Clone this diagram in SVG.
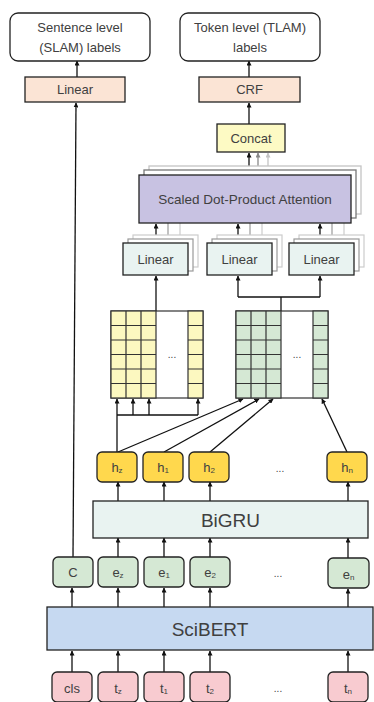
<svg xmlns="http://www.w3.org/2000/svg" width="374" height="702" viewBox="0 0 374 702">
<defs>
<marker id="ah" viewBox="0 0 10 10" refX="9" refY="5" markerWidth="5" markerHeight="5" orient="auto" markerUnits="userSpaceOnUse"><path d="M0,0 L10,5 L0,10 z" fill="#111"/></marker>
<marker id="ahg" viewBox="0 0 10 10" refX="9" refY="5" markerWidth="5" markerHeight="5" orient="auto" markerUnits="userSpaceOnUse"><path d="M0,0 L10,5 L0,10 z" fill="#888"/></marker>
<marker id="ahl" viewBox="0 0 10 10" refX="9" refY="5" markerWidth="5" markerHeight="5" orient="auto" markerUnits="userSpaceOnUse"><path d="M0,0 L10,5 L0,10 z" fill="#c4c4c4"/></marker>
<style>
text{font-family:"Liberation Sans","Noto Sans",sans-serif;fill:#404040;text-anchor:middle;dominant-baseline:central}
.b{stroke:#222;stroke-width:1.3}
.c{stroke:#111;stroke-width:1.3;fill:none}
.a{marker-end:url(#ah)}
.lbl{fill:#fff}
.pe{fill:#fbe4d5}
.te{fill:#e9f3f1}
.gr{fill:#d5e8d4}
.go{fill:#ffd84d}
.pk{fill:#f8cbd0}
.ym{fill:#fcf8c0}
.gm{fill:#d5e8d4}
.m{stroke:#333;stroke-width:1.2}
.dots{font-size:10px}
.sub{font-size:8px}
</style>
</defs>

<g id="connectors">
<line class="c a" x1="72" y1="672" x2="72" y2="651"/>
<line class="c a" x1="118" y1="672" x2="118" y2="651"/>
<line class="c a" x1="164" y1="672" x2="164" y2="651"/>
<line class="c a" x1="210" y1="672" x2="210" y2="651"/>
<line class="c a" x1="348" y1="672" x2="348" y2="651"/>
<line class="c a" x1="72" y1="607" x2="72" y2="588"/>
<line class="c a" x1="118" y1="607" x2="118" y2="588"/>
<line class="c a" x1="164" y1="607" x2="164" y2="588"/>
<line class="c a" x1="210" y1="607" x2="210" y2="588"/>
<line class="c a" x1="348" y1="607" x2="348" y2="589"/>
<line class="c a" x1="118" y1="557" x2="118" y2="538"/>
<line class="c a" x1="164" y1="557" x2="164" y2="538"/>
<line class="c a" x1="210" y1="557" x2="210" y2="538"/>
<line class="c a" x1="348" y1="558" x2="348" y2="538"/>
<line class="c a" x1="118" y1="501" x2="118" y2="482"/>
<line class="c a" x1="164" y1="501" x2="164" y2="482"/>
<line class="c a" x1="210" y1="501" x2="210" y2="482"/>
<line class="c a" x1="348" y1="501" x2="348" y2="482"/>
<line class="c a" x1="73" y1="557" x2="76" y2="103"/>
<line class="c a" x1="77" y1="77" x2="77" y2="61"/>
<line class="c a" x1="249" y1="77" x2="249" y2="61"/>
<line class="c a" x1="249" y1="124" x2="249" y2="103"/>
<line x1="268" y1="166" x2="268" y2="153" stroke="#c4c4c4" stroke-width="1.3" marker-end="url(#ahl)"/>
<line x1="258" y1="170" x2="258" y2="153" stroke="#888" stroke-width="1.3" marker-end="url(#ahg)"/>
<line class="c a" x1="249" y1="175" x2="249" y2="153"/>
<line class="c a" x1="117" y1="452" x2="117" y2="399"/>
<line class="c" x1="117" y1="415" x2="198" y2="415"/>
<line class="c a" x1="133" y1="415" x2="133" y2="399"/>
<line class="c a" x1="149" y1="415" x2="149" y2="399"/>
<line class="c a" x1="198" y1="415" x2="198" y2="399"/>
<line class="c a" x1="118" y1="452" x2="243" y2="399"/>
<line class="c a" x1="164" y1="452" x2="259" y2="399"/>
<line class="c a" x1="210" y1="452" x2="273" y2="399"/>
<line class="c a" x1="347" y1="452" x2="322" y2="399"/>
<line class="c a" x1="156" y1="311" x2="156" y2="276"/>
<polyline class="c" points="281,311 281,297"/>
<line class="c" x1="238" y1="297" x2="320" y2="297"/>
<line class="c a" x1="238" y1="297" x2="238" y2="276"/>
<line class="c a" x1="320" y1="297" x2="320" y2="276"/>
<g stroke-width="1.2">
<line x1="168" y1="239" x2="168" y2="223" stroke="#999"/>
<line x1="180" y1="235" x2="180" y2="223" stroke="#ccc"/>
<line x1="250" y1="239" x2="250" y2="223" stroke="#999"/>
<line x1="262" y1="235" x2="262" y2="223" stroke="#ccc"/>
<line x1="332" y1="239" x2="332" y2="223" stroke="#999"/>
<line x1="344" y1="235" x2="344" y2="223" stroke="#ccc"/>
</g>
<line class="c a" x1="156" y1="243" x2="156" y2="224"/>
<line class="c a" x1="238" y1="243" x2="238" y2="224"/>
<line class="c a" x1="320" y1="243" x2="320" y2="224"/>
</g>

<g id="sentence-labels">
<rect class="b lbl" x="10" y="13" width="140" height="48" rx="8"/>
<text x="80" y="27" font-size="13">Sentence level</text>
<text x="80" y="47" font-size="13">(SLAM) labels</text>
</g>
<g id="token-labels">
<rect class="b lbl" x="180" y="13" width="140" height="48" rx="8"/>
<text x="250" y="27" font-size="13">Token level (TLAM)</text>
<text x="250" y="47" font-size="13">labels</text>
</g>
<g id="linear-sentence">
<rect class="b pe" x="25" y="77" width="100" height="25"/>
<text x="75" y="89.5" font-size="13">Linear</text>
</g>
<g id="crf">
<rect class="b pe" x="199" y="77" width="101" height="25"/>
<text x="249.5" y="89.5" font-size="13">CRF</text>
</g>
<g id="concat">
<rect class="b" fill="#fdfac4" x="217" y="124" width="68" height="28"/>
<text x="251" y="138" font-size="13">Concat</text>
</g>
<g id="attention">
<rect x="149" y="166" width="212" height="48" fill="#fff" stroke="#c4c4c4" stroke-width="1.3"/>
<rect x="144" y="170" width="212" height="48" fill="#fff" stroke="#777" stroke-width="1.3"/>
<rect class="b" fill="#c8c2e2" x="139" y="175" width="212" height="48"/>
<text x="245" y="199" font-size="13.5">Scaled Dot-Product Attention</text>
</g>
<g id="linear-q">
<rect x="133" y="235" width="65" height="32" fill="#fff" stroke="#ccc" stroke-width="1.2"/>
<rect x="128" y="239" width="65" height="32" fill="#fff" stroke="#999" stroke-width="1.2"/>
<rect class="b te" x="123" y="243" width="65" height="32"/>
<text x="155.5" y="259" font-size="13">Linear</text>
</g>
<g id="linear-k">
<rect x="217" y="235" width="65" height="32" fill="#fff" stroke="#ccc" stroke-width="1.2"/>
<rect x="212" y="239" width="65" height="32" fill="#fff" stroke="#999" stroke-width="1.2"/>
<rect class="b te" x="207" y="243" width="65" height="32"/>
<text x="239.5" y="259" font-size="13">Linear</text>
</g>
<g id="linear-v">
<rect x="299" y="235" width="65" height="32" fill="#fff" stroke="#ccc" stroke-width="1.2"/>
<rect x="294" y="239" width="65" height="32" fill="#fff" stroke="#999" stroke-width="1.2"/>
<rect class="b te" x="289" y="243" width="65" height="32"/>
<text x="321.5" y="259" font-size="13">Linear</text>
</g>

<g id="matrix-yellow">
<rect x="111" y="311" width="92" height="87" fill="#fff" class="m"/>
<rect class="ym m" x="111" y="311" width="45" height="87"/>
<rect class="ym m" x="188" y="311" width="15" height="87"/>
<path class="m" fill="none" d="M126,311V398M141,311V398M111,325.5H156M111,340H156M111,354.5H156M111,369H156M111,383.5H156M188,325.5H203M188,340H203M188,354.5H203M188,369H203M188,383.5H203"/>
<text class="dots" x="172" y="354">...</text>
</g>
<g id="matrix-green">
<rect x="236" y="311" width="92" height="87" fill="#fff" class="m"/>
<rect class="gm m" x="236" y="311" width="45" height="87"/>
<rect class="gm m" x="313" y="311" width="15" height="87"/>
<path class="m" fill="none" d="M251,311V398M266,311V398M236,325.5H281M236,340H281M236,354.5H281M236,369H281M236,383.5H281M313,325.5H328M313,340H328M313,354.5H328M313,369H328M313,383.5H328"/>
<text class="dots" x="297" y="354">...</text>
</g>

<g id="h-z">
<rect class="b go" x="97" y="452" width="40" height="30" rx="5"/>
<text x="117" y="467" font-size="13">h<tspan class="sub" dy="3">z</tspan></text>
</g>
<g id="h-1">
<rect class="b go" x="143" y="452" width="40" height="30" rx="5"/>
<text x="163" y="467" font-size="13">h<tspan class="sub" dy="3">1</tspan></text>
</g>
<g id="h-2">
<rect class="b go" x="189" y="452" width="40" height="30" rx="5"/>
<text x="209" y="467" font-size="13">h<tspan class="sub" dy="3">2</tspan></text>
</g>
<g id="h-dots"><text class="dots" x="280" y="468">...</text></g>
<g id="h-n">
<rect class="b go" x="327" y="452" width="40" height="30" rx="5"/>
<text x="347" y="467" font-size="13">h<tspan class="sub" dy="3">n</tspan></text>
</g>

<g id="bigru">
<rect class="b te" x="93" y="501" width="275" height="37"/>
<text x="230.5" y="520" font-size="19">BiGRU</text>
</g>

<g id="e-c">
<rect class="b gr" x="53" y="557" width="40" height="30" rx="5"/>
<text x="73" y="572" font-size="13">C</text>
</g>
<g id="e-z">
<rect class="b gr" x="98" y="557" width="40" height="30" rx="5"/>
<text x="118" y="572" font-size="13">e<tspan class="sub" dy="3">z</tspan></text>
</g>
<g id="e-1">
<rect class="b gr" x="144" y="557" width="40" height="30" rx="5"/>
<text x="164" y="572" font-size="13">e<tspan class="sub" dy="3">1</tspan></text>
</g>
<g id="e-2">
<rect class="b gr" x="190" y="557" width="40" height="30" rx="5"/>
<text x="210" y="572" font-size="13">e<tspan class="sub" dy="3">2</tspan></text>
</g>
<g id="e-dots"><text class="dots" x="278" y="573">...</text></g>
<g id="e-n">
<rect class="b gr" x="328" y="558" width="41" height="30" rx="5"/>
<text x="348.5" y="574" font-size="13">e<tspan class="sub" dy="3">n</tspan></text>
</g>

<g id="scibert">
<rect class="b" fill="#c6d9f1" x="47" y="607" width="326" height="43"/>
<text x="210" y="629" font-size="19">SciBERT</text>
</g>

<g id="t-cls">
<rect class="b pk" x="52" y="672" width="40" height="30" rx="5"/>
<text x="72" y="688" font-size="13">cls</text>
</g>
<g id="t-z">
<rect class="b pk" x="98" y="672" width="40" height="30" rx="5"/>
<text x="118" y="688" font-size="13">t<tspan class="sub" dy="3">z</tspan></text>
</g>
<g id="t-1">
<rect class="b pk" x="144" y="672" width="40" height="30" rx="5"/>
<text x="164" y="688" font-size="13">t<tspan class="sub" dy="3">1</tspan></text>
</g>
<g id="t-2">
<rect class="b pk" x="190" y="672" width="40" height="30" rx="5"/>
<text x="210" y="688" font-size="13">t<tspan class="sub" dy="3">2</tspan></text>
</g>
<g id="t-dots"><text class="dots" x="278" y="688">...</text></g>
<g id="t-n">
<rect class="b pk" x="328" y="672" width="40" height="30" rx="5"/>
<text x="348" y="688" font-size="13">t<tspan class="sub" dy="3">n</tspan></text>
</g>
</svg>
